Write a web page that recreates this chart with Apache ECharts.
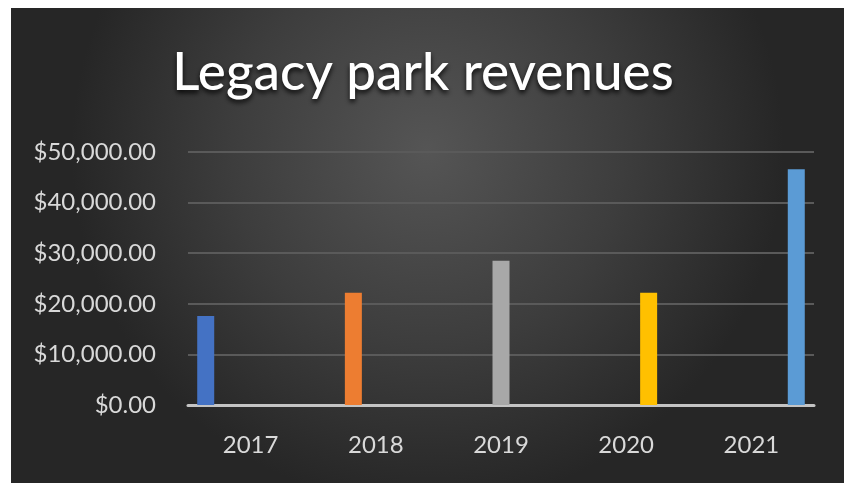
<!DOCTYPE html>
<html>
<head>
<meta charset="utf-8">
<script src="https://cdn.jsdelivr.net/npm/echarts@6/dist/echarts.min.js"></script>
<style>
html,body{margin:0;padding:0;background:#fff;}
#chart{width:846px;height:483px;}
</style>
</head>
<body>
<div id="chart"></div>
<script>
const years = ['2017', '2018', '2019', '2020', '2021'];
const revenues = [17600, 22200, 28500, 22200, 46600];
const barColors = ['#4472C4', '#ED7D31', '#A8A8A8', '#FFC000', '#5B9BD5'];
const yTicks = { min: 0, max: 50000, interval: 10000 };
const titleText = 'Legacy park revenues';

const chart = echarts.init(document.getElementById('chart'), null, { renderer: 'canvas' });

const series = years.map((y, i) => ({
  name: y,
  type: 'bar',
  barWidth: 17,
  barGap: '32%',
  itemStyle: { color: barColors[i] },
  data: years.map((_, j) => (j === i ? revenues[i] : null))
}));

chart.setOption({
  backgroundColor: '#ffffff',
  graphic: [{
    type: 'rect',
    z: -10,
    silent: true,
    shape: { x: 11, y: 8, width: 833, height: 475 },
    style: {
      fill: new echarts.graphic.RadialGradient(0.5, 0.3, 0.75, [
        { offset: 0, color: '#555555' },
        { offset: 0.55, color: '#3d3d3d' },
        { offset: 1, color: '#262626' }
      ])
    }
  }],
  title: {
    text: titleText,
    left: 'center',
    top: 41,
    textStyle: {
      color: '#ffffff',
      fontFamily: 'Lato',
      fontWeight: 500,
      fontSize: 53,
      textShadowColor: 'rgba(0,0,0,0.85)',
      textShadowBlur: 5,
      textShadowOffsetY: 3
    }
  },
  grid: { left: 188, right: 32, top: 152, bottom: 78, containLabel: false },
  xAxis: {
    type: 'category',
    data: years,
    axisTick: { show: false },
    axisLine: { lineStyle: { color: '#c4c4c4', width: 3 } },
    axisLabel: { color: '#d9d9d9', fontFamily: 'Lato', fontSize: 24, margin: 28 }
  },
  yAxis: {
    type: 'value',
    min: yTicks.min,
    max: yTicks.max,
    interval: yTicks.interval,
    axisLine: { show: false },
    axisTick: { show: false },
    splitLine: { lineStyle: { color: '#5a5a5a', width: 2 } },
    axisLabel: {
      color: '#d9d9d9',
      fontFamily: 'Lato',
      fontSize: 24,
      margin: 32,
      formatter: v => '$' + v.toLocaleString('en-US', { minimumFractionDigits: 2, maximumFractionDigits: 2 })
    }
  },
  series: series
});
</script>
</body>
</html>
